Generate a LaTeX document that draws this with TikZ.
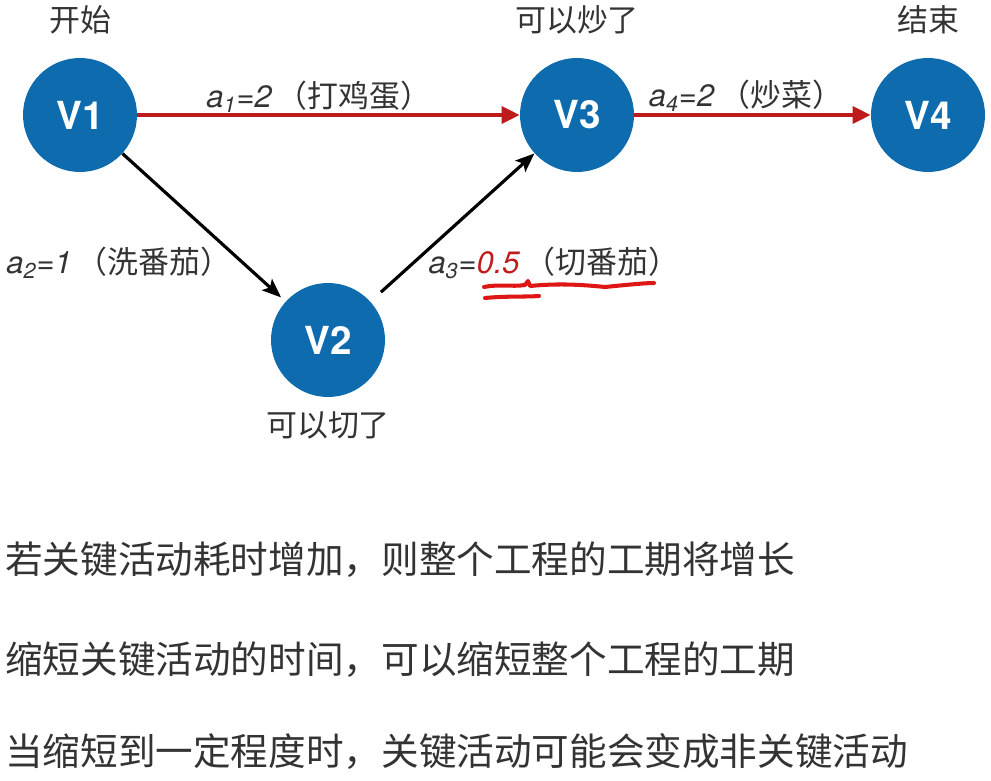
\documentclass[tikz,border=0pt]{standalone}
\usepackage{fontspec}
\setmainfont{TeX Gyre Heros}
\newfontfamily\cjk{Noto Sans CJK SC}
\usepackage{xcolor}
\usetikzlibrary{arrows.meta,positioning}
\definecolor{nodeblue}{RGB}{14,108,174}
\definecolor{critred}{RGB}{190,28,28}
\definecolor{penred}{RGB}{222,22,22}
\tikzset{
vtx/.style={circle,fill=nodeblue,text=white,minimum size=2.28cm,inner sep=0pt,font=\fontsize{22}{24}\selectfont\bfseries},
vcap/.style={font=\fontsize{17.6}{20}\selectfont\cjk,text=black!80,inner sep=1pt},
elab/.style={font=\fontsize{17.6}{20}\selectfont,text=black!80,inner sep=1pt},
note/.style={font=\fontsize{21.4}{24}\selectfont\cjk,text=black!80,anchor=west,inner sep=0pt},
critarr/.style={-{Triangle[length=0.36cm,width=0.34cm]},critred,line width=2pt},
planarr/.style={-{Stealth[length=0.38cm,width=0.3cm,inset=0.08cm]},black,line width=1.8pt},
penmark/.style={penred,line width=2.3pt,line cap=round,line join=round}
}
\begin{document}
\begin{tikzpicture}[x=1cm,y=1cm]
\useasboundingbox (0,0) rectangle (19.82,-15.62);
% events
\node[vtx] (v1) at (1.60,-2.30) {V1};
\node[vtx] (v2) at (6.56,-6.80) {V2};
\node[vtx] (v3) at (11.54,-2.30) {V3};
\node[vtx] (v4) at (18.56,-2.30) {V4};
\node[vcap] (start) at (1.60,-0.40) {开始};
\node[vcap] (canfry) at (11.54,-0.40) {可以炒了};
\node[vcap] (finish) at (18.56,-0.40) {结束};
\node[vcap] (cancut) at (6.56,-8.50) {可以切了};
% activities
\draw[critarr] (v1)--(v3);
\draw[critarr] (v3)--(v4);
\draw[planarr,shorten >=0.12cm] (v1)--(v2);
\draw[planarr,shorten <=0.28cm] (v2)--(v3);
\node[elab] (a1) at (6.38,-1.94) {{\itshape a\textsubscript{1}=2}\,{\cjk（打鸡蛋）}};
\node[elab] (a4) at (14.92,-1.92) {{\itshape a\textsubscript{4}=2}\,{\cjk（炒菜）}};
\node[elab] (a2) at (2.38,-5.26) {{\itshape a\textsubscript{2}=1}\,{\cjk（洗番茄）}};
\node[elab] (a3) at (11.08,-5.26) {{\itshape a\textsubscript{3}=}{\itshape\color{critred}0.5}\,{\cjk（切番茄）}};
% hand mark under the changed duration
\draw[penmark] (9.68,-5.74) .. controls (9.95,-5.68) and (10.25,-5.74) .. (10.50,-5.70)
  -- (10.56,-5.62) -- (10.60,-5.72) .. controls (11.20,-5.66) and (11.70,-5.70) .. (12.10,-5.74)
  .. controls (12.50,-5.70) and (12.90,-5.66) .. (13.08,-5.66);
\draw[penmark] (9.70,-5.96) .. controls (10.10,-5.92) and (10.50,-5.94) .. (10.78,-5.92);
% notes
\node[note] (n1) at (0.10,-11.20) {若关键活动耗时增加，则整个工程的工期将增长};
\node[note] (n2) at (0.10,-13.20) {缩短关键活动的时间，可以缩短整个工程的工期};
\node[note] (n3) at (0.10,-15.04) {当缩短到一定程度时，关键活动可能会变成非关键活动};
\end{tikzpicture}
\end{document}
